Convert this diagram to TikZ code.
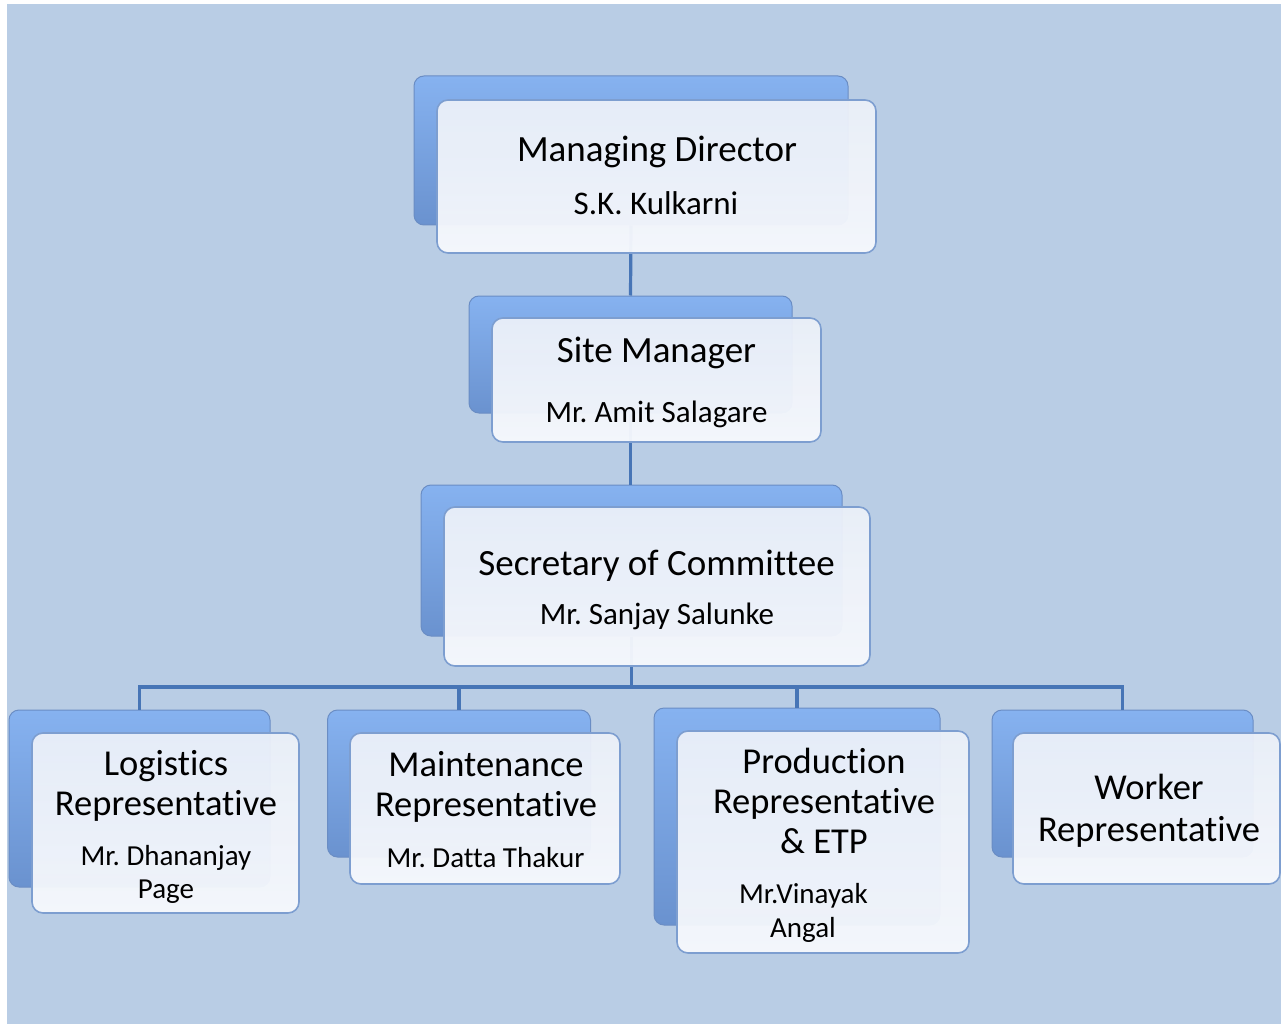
\documentclass[tikz,border=0pt]{standalone}
\usepackage{fontspec}
\setmainfont{Carlito}[Ligatures={NoCommon,NoContextual}]
\frenchspacing
\definecolor{bgblue}{HTML}{B9CDE5}
\definecolor{backtop}{HTML}{86B2F0}
\definecolor{backbot}{HTML}{6A92CF}
\definecolor{backedge}{HTML}{6A8DC4}
\definecolor{fronttop}{HTML}{EBF0F9}
\definecolor{frontbot}{HTML}{F7F9FD}
\definecolor{frontedge}{HTML}{7D9ED0}
\definecolor{connblue}{HTML}{4775B6}
\tikzset{
  backbox/.style={rectangle, rounded corners=10pt, draw=backedge, line width=1pt,
    top color=backtop, bottom color=backbot, inner sep=0pt},
  frontbox/.style={rectangle, rounded corners=11pt, draw=frontedge, line width=1.6pt,
    top color=fronttop, bottom color=frontbot, fill opacity=0.95, inner sep=0pt},
  conn/.style={draw=connblue, line width=3.2pt},
  ttl/.style={anchor=base, inner sep=0pt, font=\fontsize{37}{40}\selectfont},
  ttlb/.style={anchor=base, inner sep=0pt, font=\fontsize{36.5}{40}\selectfont},
  nm/.style={anchor=base, inner sep=0pt, font=\fontsize{31}{34}\selectfont},
  nms/.style={anchor=base, inner sep=0pt, font=\fontsize{29}{33}\selectfont},
}
\begin{document}
\begin{tikzpicture}[x=1pt,y=-1pt]
\useasboundingbox (0,0) rectangle (1281,1024);
\fill[bgblue] (7,4) rectangle (1281,1024);

% back boxes
\node[backbox, minimum width=434pt, minimum height=149pt] (mdB) at (631,150.5) {};
\node[backbox, minimum width=323pt, minimum height=117pt] (smB) at (630.5,354.5) {};
\node[backbox, minimum width=421pt, minimum height=151pt] (scB) at (631.5,560.5) {};
\node[backbox, minimum width=261pt, minimum height=177pt] (lgB) at (139.5,798.5) {};
\node[backbox, minimum width=263pt, minimum height=147pt] (mtB) at (459,783.5) {};
\node[backbox, minimum width=286pt, minimum height=217pt] (prB) at (797,816.5) {};
\node[backbox, minimum width=261pt, minimum height=147pt] (wkB) at (1122.5,783.5) {};

% connectors
\coordinate (bus) at (631.5,687);
\draw[conn] (mdB.south) -- (smB.north);
\draw[conn] (smB.south) -- (smB.south |- scB.north);
\draw[conn] (scB.south) -- (bus);
\draw[conn] (lgB.north) -- (lgB.north |- bus) -- (wkB.north |- bus) -- (wkB.north);
\draw[conn] (mtB.north) -- (mtB.north |- bus);
\draw[conn] (prB.north) -- (prB.north |- bus);

% front boxes
\node[frontbox, minimum width=439pt, minimum height=153pt] (mdF) at (656.5,176.5) {};
\node[frontbox, minimum width=329pt, minimum height=124pt] (smF) at (656.5,380) {};
\node[frontbox, minimum width=426pt, minimum height=159pt] (scF) at (657,586.5) {};
\node[frontbox, minimum width=267pt, minimum height=180pt] (lgF) at (165.5,823) {};
\node[frontbox, minimum width=270pt, minimum height=151pt] (mtF) at (485,808.5) {};
\node[frontbox, minimum width=292pt, minimum height=222pt] (prF) at (823,842) {};
\node[frontbox, minimum width=267pt, minimum height=151pt] (wkF) at (1146.5,808.5) {};

% texts
\node[ttl] (mdT) at (657,162) {Managing Director};
\node[nm, font=\fontsize{33}{36}\selectfont] (mdN) at (656,215) {S.K. Kulkarni};
\node[ttl] (smT) at (656.5,362) {Site Manager};
\node[nm] (smN) at (656.5,422) {Mr. Amit Salagare};
\node[ttl] (scT) at (656.5,575) {Secretary of Committee};
\node[nm] (scN) at (657,624) {Mr. Sanjay Salunke};

\node[ttlb] (lgT1) at (166,775) {Logistics};
\node[ttlb] (lgT2) at (166,815) {Representative};
\node[nms] (lgN1) at (166,865) {Mr. Dhananjay};
\node[nms] (lgN2) at (166,898) {Page};

\node[ttlb] (mtT1) at (486,776) {Maintenance};
\node[ttlb] (mtT2) at (486,816) {Representative};
\node[nms] (mtN) at (485.5,867) {Mr. Datta Thakur};

\node[ttlb] (prT1) at (824,773) {Production};
\node[ttlb] (prT2) at (824,813) {Representative};
\node[ttlb] (prT3) at (824,853) {\& ETP};
\node[nms] (prN1) at (803.5,903) {Mr.Vinayak};
\node[nms] (prN2) at (803,937) {Angal};

\node[ttlb] (wkT1) at (1149,799) {Worker};
\node[ttlb] (wkT2) at (1149,841) {Representative};
\end{tikzpicture}
\end{document}
